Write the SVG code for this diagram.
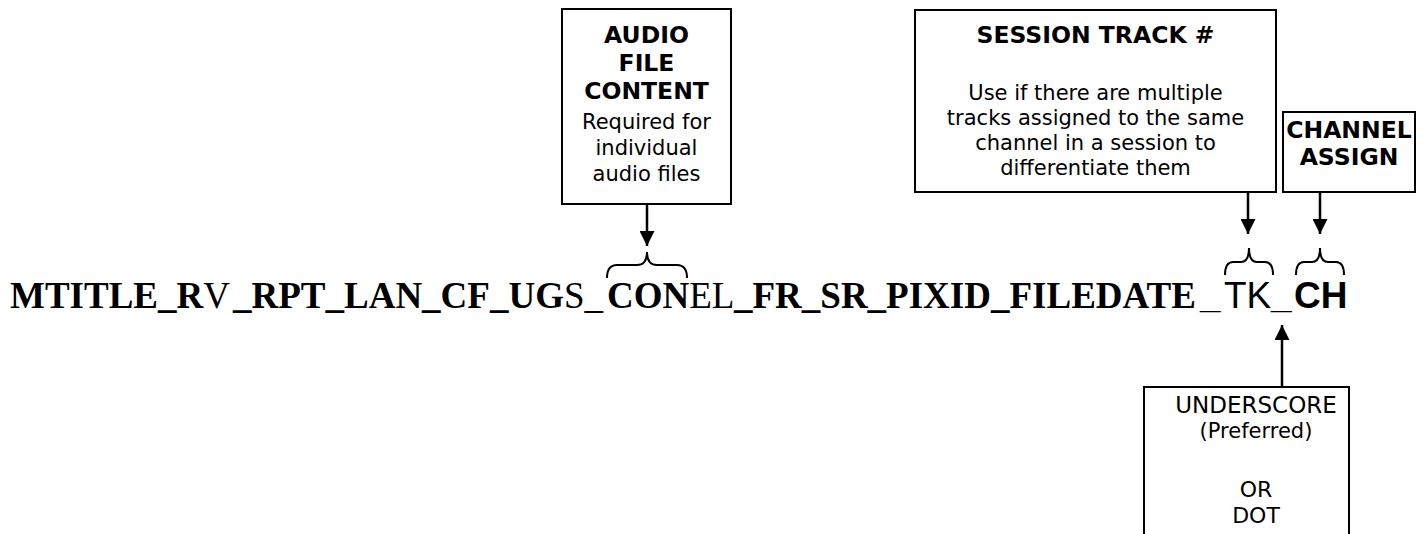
<svg xmlns="http://www.w3.org/2000/svg" width="1427" height="534" viewBox="0 0 1427 534">
<style>
.box{fill:#fff;stroke:#000;stroke-width:2}
.hb{font-family:"DejaVu Sans",Verdana,sans-serif;font-weight:bold;font-size:23.5px;text-anchor:middle;fill:#000}
.tx{font-family:"DejaVu Sans",Verdana,sans-serif;font-size:21px;text-anchor:middle;fill:#000}
.main{font-family:"Liberation Serif","Times New Roman",serif;font-size:37px;fill:#000}
.b{font-weight:bold}
.sans{font-family:"Liberation Sans",Arial,sans-serif}
.conn{stroke:#000;stroke-width:2.5;fill:none}
.brace{stroke:#000;stroke-width:2;fill:none}
</style>
<defs>
<marker id="ah" viewBox="0 0 10 10" refX="10" refY="5" markerWidth="6" markerHeight="6" markerUnits="strokeWidth" orient="auto">
<path d="M0,0 L10,5 L0,10 Z" fill="#000"/>
</marker>
</defs>
<rect width="1427" height="534" fill="#fff"/>

<g id="audio-box">
<rect class="box" x="562" y="9" width="169" height="195"/>
<text class="hb" x="646.5" y="43">AUDIO</text>
<text class="hb" x="646.5" y="71">FILE</text>
<text class="hb" x="646.5" y="99">CONTENT</text>
<text class="tx" x="646.5" y="129">Required for</text>
<text class="tx" x="646.5" y="155">individual</text>
<text class="tx" x="646.5" y="181">audio files</text>
</g>

<g id="session-box">
<rect class="box" x="915" y="10" width="361" height="182"/>
<text class="hb" x="1095.5" y="43">SESSION TRACK #</text>
<text class="tx" x="1095.5" y="100">Use if there are multiple</text>
<text class="tx" x="1095.5" y="125">tracks assigned to the same</text>
<text class="tx" x="1095.5" y="150">channel in a session to</text>
<text class="tx" x="1095.5" y="175">differentiate them</text>
</g>

<g id="channel-box">
<rect class="box" x="1283" y="112" width="132" height="80"/>
<text class="hb" x="1349" y="138">CHANNEL</text>
<text class="hb" x="1349" y="165">ASSIGN</text>
</g>

<g id="separator-box">
<rect class="box" x="1144" y="387" width="205" height="200"/>
<text class="tx" x="1256" y="413" style="font-size:23px">UNDERSCORE</text>
<text class="tx" x="1256" y="438">(Preferred)</text>
<text class="tx" x="1256" y="497" style="font-size:22px">OR</text>
<text class="tx" x="1256" y="523" style="font-size:22px">DOT</text>
</g>

<g id="filename">
<text class="main" y="308"><tspan class="b" x="10">MTITLE_R</tspan><tspan>V</tspan><tspan class="b" x="233">_RPT_LAN_CF_UG</tspan><tspan>S_</tspan><tspan class="b" x="607">CON</tspan><tspan>EL</tspan><tspan class="b" x="734">_FR_SR_PIXID_FILEDATE</tspan><tspan class="sans b" x="1200">_</tspan><tspan class="sans" x="1224">TK</tspan><tspan class="sans b" x="1271">_</tspan><tspan class="sans b" x="1294">CH</tspan></text>
</g>

<g id="connectors">
<line class="conn" x1="647" y1="204" x2="647" y2="246" marker-end="url(#ah)"/>
<line class="conn" x1="1248" y1="192" x2="1248" y2="234" marker-end="url(#ah)"/>
<line class="conn" x1="1320" y1="192" x2="1320" y2="234" marker-end="url(#ah)"/>
<line class="conn" x1="1282" y1="387" x2="1282" y2="325" marker-end="url(#ah)"/>
<path class="brace" d="M607,278 Q607,265 617,265 L637,265 Q647,265 647,252 Q647,265 657,265 L677,265 Q687,265 687,278"/>
<path class="brace" d="M1225,275 Q1225,262 1233,262 L1241,262 Q1249,262 1249,248 Q1249,262 1257,262 L1265,262 Q1273,262 1273,275"/>
<path class="brace" d="M1296,275 Q1296,262 1304,262 L1312,262 Q1320,262 1320,248 Q1320,262 1328,262 L1336,262 Q1344,262 1344,275"/>
</g>
</svg>
